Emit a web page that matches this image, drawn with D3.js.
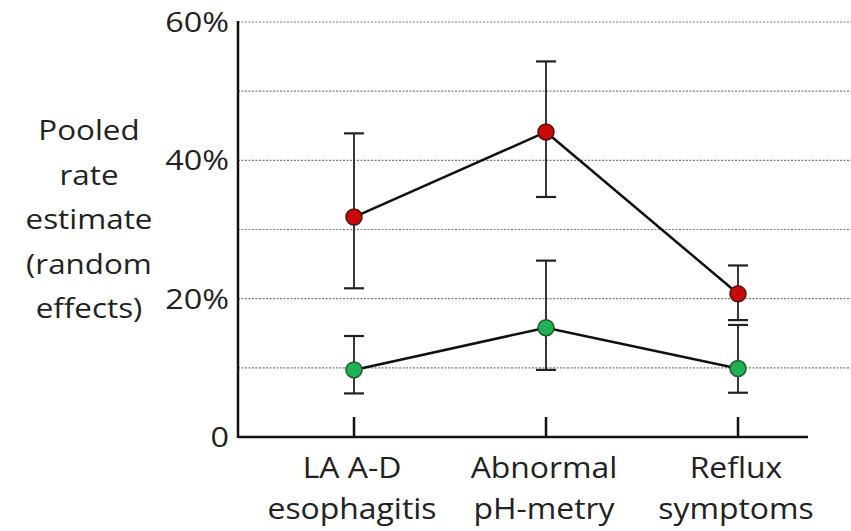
<!DOCTYPE html>
<html>
<head>
<meta charset="utf-8">
<script src="https://cdn.jsdelivr.net/npm/d3@7"></script>
<style>
  body { margin: 0; background: #fff; }
  text { font-family: "Open Sans", sans-serif; fill: #222; }
</style>
</head>
<body>
<div id="chart"></div>
<script>
// --- Pooled rate estimates ---
const categories = [["LA A-D", "esophagitis"], ["Abnormal", "pH-metry"], ["Reflux", "symptoms"]];
const redRate = [31.8, 44.1, 20.7];
const redLow = [21.5, 34.7, 16.9];
const redHigh = [43.9, 54.3, 24.8];
const greenRate = [9.7, 15.8, 9.9];
const greenLow = [6.3, 9.7, 6.4];
const greenHigh = [14.6, 25.5, 16.2];
const yTicks = [0, 20, 40, 60];
const gridValues = [10, 20, 30, 40, 50, 60];
const yTitle = ["Pooled", "rate", "estimate", "(random", "effects)"];

const W = 851, H = 531;
const svg = d3.select("#chart").append("svg")
    .attr("width", W).attr("height", H);

const x0 = 238, x1 = 808;
const y = d3.scaleLinear().domain([0, 60]).range([437, 22]);
const x = d3.scalePoint().domain(categories.map((d, i) => i)).range([354, 738]);

// text helper: the source picture is a bit stretched sideways
function label(px, py, str, size, sx, anchor) {
    svg.append("g")
        .attr("transform", `translate(${px},${py}) scale(${sx},1)`)
        .append("text")
        .attr("text-anchor", anchor || "middle")
        .attr("font-size", size)
        .text(str);
}

// gridlines
svg.selectAll(".grid")
    .data(gridValues)
    .enter().append("line")
    .attr("x1", x0).attr("x2", W)
    .attr("y1", d => y(d)).attr("y2", d => y(d))
    .attr("stroke", "#7a7a7a")
    .attr("stroke-width", 1.2)
    .attr("stroke-dasharray", "2,1.5");

// y tick labels
yTicks.forEach(v => {
    label(229, y(v) + 10, v === 0 ? "0" : v + "%", 27, 1.2, "end");
});

// axes
svg.append("line")
    .attr("x1", x0).attr("x2", x0)
    .attr("y1", y(60) - 1).attr("y2", y(0) + 1)
    .attr("stroke", "#111").attr("stroke-width", 2.5);
svg.append("line")
    .attr("x1", x0).attr("x2", x1)
    .attr("y1", y(0)).attr("y2", y(0))
    .attr("stroke", "#111").attr("stroke-width", 2.5);

// x ticks (pointing up)
svg.selectAll(".xtick")
    .data(categories)
    .enter().append("line")
    .attr("x1", (d, i) => x(i)).attr("x2", (d, i) => x(i))
    .attr("y1", y(0)).attr("y2", y(0) - 20)
    .attr("stroke", "#111").attr("stroke-width", 2.5);

// x labels
categories.forEach((lines, i) => {
    lines.forEach((l, k) => label(x(i) - 2, 478 + k * 41, l, 29, 1.1));
});

// y title
yTitle.forEach((l, k) => label(89, 140 + k * 44.5, l, 28, 1.12));

// error bars
function drawErrors(low, high) {
    const g = svg.append("g");
    low.forEach((lo, i) => {
        const cx = x(i);
        g.append("line")
            .attr("x1", cx).attr("x2", cx)
            .attr("y1", y(lo)).attr("y2", y(high[i]))
            .attr("stroke", "#222").attr("stroke-width", 1.8);
        [lo, high[i]].forEach(v => {
            g.append("line")
                .attr("x1", cx - 10).attr("x2", cx + 10)
                .attr("y1", y(v)).attr("y2", y(v))
                .attr("stroke", "#222").attr("stroke-width", 2.2);
        });
    });
}
drawErrors(redLow, redHigh);
drawErrors(greenLow, greenHigh);

// lines + points
const line = d3.line().x((d, i) => x(i)).y(d => y(d));
function drawSeries(values, fill, stroke) {
    svg.append("path")
        .datum(values)
        .attr("fill", "none")
        .attr("stroke", "#111")
        .attr("stroke-width", 2.5)
        .attr("d", line);
    svg.selectAll(null)
        .data(values)
        .enter().append("circle")
        .attr("cx", (d, i) => x(i))
        .attr("cy", d => y(d))
        .attr("r", 8)
        .attr("fill", fill)
        .attr("stroke", stroke)
        .attr("stroke-width", 1.5);
}
drawSeries(redRate, "#c80a0a", "#5a1010");
drawSeries(greenRate, "#1fb253", "#205a30");
</script>
</body>
</html>
